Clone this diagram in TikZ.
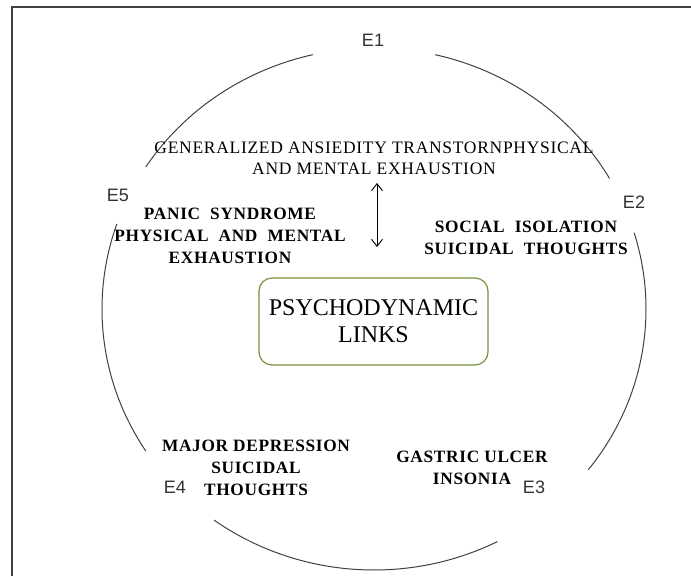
\documentclass[tikz,border=0pt]{standalone}
\usepackage{fontspec}
\setmainfont{Liberation Serif}
\newfontfamily\lblfont{Liberation Sans}
\newfontfamily\symfont[LetterSpace=4]{Liberation Serif}
\usepackage{tikz}
\usetikzlibrary{arrows.meta}
\definecolor{linkgreen}{HTML}{76923C}
\definecolor{ringgray}{HTML}{404040}
\newcommand{\ringx}{374}
\newcommand{\ringy}{309}
\newcommand{\ringrx}{272pt}
\newcommand{\ringry}{261pt}
\newcommand{\arrx}{377}
\newcommand{\arrya}{183}
\newcommand{\arryb}{247}

\begin{document}
\begin{tikzpicture}[x=1pt,y=-1pt,
    elbl/.style={font=\lblfont\fontsize{18}{20}\selectfont,text=black!80},
    symp/.style={font=\symfont\bfseries\fontsize{17.3}{22}\selectfont,
      align=center,inner sep=0pt},
    ring/.style={draw=ringgray,line width=1pt}]
  \useasboundingbox (0,0) rectangle (691,576);

  % frame
  \draw[line width=1.6pt,black!75] (12,576) -- (12,7) -- (691,7);

  % ring, five pieces
  \coordinate (ringc) at (\ringx,\ringy);
  \draw[ring] (ringc)
    ++(canvas polar cs:angle=147,x radius=\ringrx,y radius=\ringry)
    arc[start angle=147,end angle=103,x radius=\ringrx,y radius=\ringry];
  \draw[ring] (ringc)
    ++(canvas polar cs:angle=77,x radius=\ringrx,y radius=\ringry)
    arc[start angle=77,end angle=30,x radius=\ringrx,y radius=\ringry];
  \draw[ring] (ringc)
    ++(canvas polar cs:angle=17,x radius=\ringrx,y radius=\ringry)
    arc[start angle=17,end angle=-38,x radius=\ringrx,y radius=\ringry];
  \draw[ring] (ringc)
    ++(canvas polar cs:angle=-63,x radius=\ringrx,y radius=\ringry)
    arc[start angle=-63,end angle=-126,x radius=\ringrx,y radius=\ringry];
  \draw[ring] (ringc)
    ++(canvas polar cs:angle=213,x radius=\ringrx,y radius=\ringry)
    arc[start angle=213,end angle=161,x radius=\ringrx,y radius=\ringry];

  \node (e1) [elbl] at (373,40) {E1};
  \node (e2) [elbl] at (634,202) {E2};
  \node (e3) [elbl] at (534,487) {E3};
  \node (e4) [elbl] at (175,487) {E4};
  \node (e5) [elbl] at (118,195) {E5};

  \node (gen) [align=center,inner sep=0pt,
    font=\symfont\fontsize{17.5}{21}\selectfont] at (374,158)
    {GENERALIZED ANSIEDITY TRANSTORNPHYSICAL\\AND MENTAL EXHAUSTION};

  \node (panic) [symp] at (230,236)
    {PANIC\ \ SYNDROME\\PHYSICAL\ \ AND\ \ MENTAL\\EXHAUSTION};
  \node (social) [symp] at (526,238)
    {SOCIAL\ \ ISOLATION\\SUICIDAL\ \ THOUGHTS};
  \node (major) [symp] at (256,468)
    {MAJOR DEPRESSION\\SUICIDAL\\THOUGHTS};
  \node (gastric) [symp] at (472,468)
    {GASTRIC ULCER\\INSONIA};

  \node (psych) [draw=linkgreen,line width=1.2pt,rounded corners=13pt,
    minimum width=229pt,minimum height=87pt,align=center,
    font=\fontsize{24}{27}\selectfont] at (373.5,321.5)
    {PSYCHODYNAMIC\\LINKS};

  \coordinate (arrtop) at (\arrx,\arrya);
  \coordinate (arrbot) at (\arrx,\arryb);
  \draw[line width=0.9pt,
    {Straight Barb[length=7pt,width=11pt]}-{Straight Barb[length=7pt,width=11pt]}]
    (arrtop) -- (arrbot);
\end{tikzpicture}
\end{document}
